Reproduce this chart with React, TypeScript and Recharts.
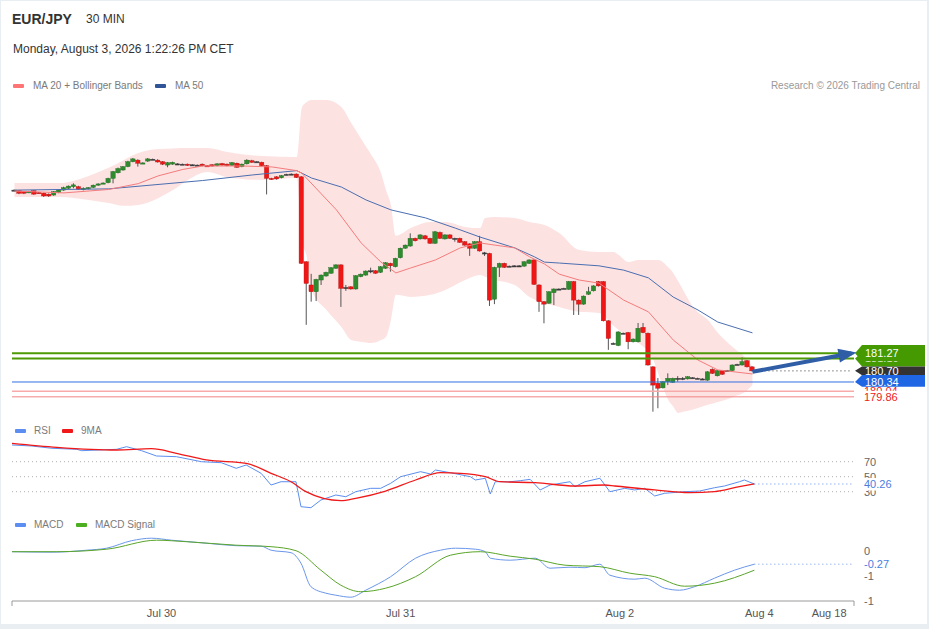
import React from 'react';
import { ComposedChart, Bar, Line, Area, XAxis, YAxis, ReferenceLine } from 'recharts';

const FONT = 'Arial, "Liberation Sans", Helvetica, sans-serif';
const SLOT_COUNT = 170;

// ---------- candles (30 min) ----------
const opens = [186.55,186.53,186.50,186.47,186.53,186.47,186.45,186.42,186.39,186.47,
186.55,186.61,186.66,186.66,186.56,186.60,186.64,186.71,186.77,186.79,
186.93,187.11,187.20,187.31,187.47,187.52,187.42,187.49,187.55,187.52,
187.47,187.36,187.39,187.40,187.39,187.39,187.37,187.36,187.39,187.34,
187.37,187.34,187.41,187.39,187.35,187.42,187.31,187.40,187.50,187.47,
187.45,187.34,186.93,186.98,186.95,187.06,187.07,187.07,186.98,184.23,
183.48,183.26,183.64,183.77,183.86,184.02,184.13,183.40,183.42,183.35,
183.75,183.80,183.94,183.94,183.89,184.02,184.18,184.07,184.36,184.67,
184.74,184.99,184.97,185.07,184.99,184.83,185.18,184.97,185.10,184.99,
184.99,184.88,184.81,184.67,184.88,184.52,184.50,183.02,184.05,184.18,
184.09,184.10,184.10,184.09,184.18,184.29,183.48,182.94,182.89,183.23,
183.35,183.37,183.34,183.59,182.99,182.86,183.18,183.29,183.59,183.59,
182.32,181.59,181.52,181.92,181.94,181.64,181.64,182.11,181.92,180.83,
180.30,180.15,180.35,180.33,180.46,180.46,180.44,180.48,180.46,180.44,
180.40,180.75,180.54,180.71,180.71,180.71,180.91,180.89,181.03,180.83];
const highs = [186.57,186.55,186.52,186.52,186.55,186.49,186.47,186.44,186.52,186.58,
186.66,186.70,186.77,186.69,186.64,186.65,186.73,186.77,186.80,186.95,
187.17,187.28,187.33,187.50,187.59,187.55,187.45,187.59,187.57,187.55,
187.49,187.46,187.47,187.42,187.41,187.41,187.39,187.38,187.41,187.36,
187.39,187.42,187.43,187.41,187.46,187.44,187.41,187.55,187.53,187.49,
187.47,187.36,186.95,187.00,187.04,187.08,187.09,187.09,187.00,184.25,
183.84,183.68,183.82,183.91,184.06,184.15,184.15,183.48,183.44,183.80,
183.85,183.95,184.04,183.96,184.09,184.22,184.20,184.36,184.69,184.79,
185.15,185.01,185.12,185.10,185.01,185.23,185.21,185.12,185.12,185.01,
185.01,184.90,184.83,184.90,185.07,184.55,184.52,184.07,184.20,184.20,
184.11,184.12,184.12,184.25,184.31,184.31,183.50,182.96,183.28,183.37,
183.37,183.39,183.61,183.61,183.01,183.14,183.42,183.47,183.61,183.61,
182.34,181.62,181.98,181.94,181.96,181.75,182.25,182.25,181.94,180.85,
180.47,180.37,180.62,180.48,180.53,180.50,180.53,180.50,180.48,180.46,
180.69,180.78,180.73,180.73,180.73,180.91,180.93,181.14,181.05,180.85];
const lows = [186.53,186.42,186.42,186.45,186.40,186.44,186.33,186.33,186.37,186.45,
186.53,186.59,186.61,186.56,186.54,186.57,186.62,186.69,186.75,186.77,
186.77,187.09,187.18,187.29,187.45,187.31,187.40,187.46,187.53,187.44,
187.36,187.29,187.37,187.38,187.37,187.33,187.35,187.34,187.32,187.31,
187.31,187.32,187.34,187.32,187.33,187.27,187.29,187.38,187.43,187.45,
187.32,186.41,186.88,186.89,186.93,187.04,187.05,186.94,184.16,182.19,
182.94,182.96,183.48,183.75,183.84,184.00,182.77,183.29,183.33,183.33,
183.73,183.78,183.86,183.84,183.87,184.00,183.91,184.05,184.34,184.65,
184.72,184.89,184.95,184.95,184.81,184.81,184.97,184.95,184.97,184.88,
184.84,184.75,184.42,184.65,184.56,184.42,182.80,182.86,183.74,184.03,
184.07,184.08,184.08,184.07,184.16,183.48,182.61,182.24,182.87,182.83,
183.33,183.35,183.32,182.51,182.51,182.84,183.16,183.27,183.43,182.30,
181.38,181.56,181.50,181.90,181.40,181.62,181.62,181.92,180.87,179.38,
179.49,180.13,180.24,180.31,180.35,180.40,180.42,180.46,180.44,180.42,
180.38,180.60,180.52,180.57,180.69,180.69,180.89,180.87,180.81,180.68];
const closes = [186.55,186.45,186.45,186.50,186.42,186.46,186.36,186.36,186.50,186.55,
186.63,186.68,186.72,186.58,186.61,186.63,186.71,186.75,186.78,186.93,
187.15,187.25,187.31,187.47,187.56,187.42,187.43,187.56,187.55,187.46,
187.39,187.44,187.45,187.40,187.39,187.35,187.37,187.36,187.34,187.33,
187.33,187.40,187.36,187.34,187.44,187.29,187.39,187.52,187.45,187.47,
187.34,186.93,186.92,186.91,187.02,187.06,187.07,186.96,184.18,183.53,
183.26,183.66,183.80,183.89,184.04,184.13,183.37,183.40,183.35,183.78,
183.83,183.93,183.94,183.86,184.07,184.20,184.10,184.34,184.67,184.77,
184.99,184.91,185.10,184.97,184.83,185.20,184.99,185.10,184.99,184.99,
184.86,184.77,184.67,184.88,184.58,184.52,182.99,184.05,184.18,184.05,
184.09,184.10,184.10,184.23,184.29,183.50,182.94,182.86,183.26,183.35,
183.35,183.37,183.59,182.99,182.86,183.12,183.26,183.45,183.45,182.32,
181.75,181.59,181.96,181.92,181.64,181.73,182.08,181.94,180.89,180.24,
180.14,180.35,180.46,180.46,180.46,180.46,180.51,180.48,180.46,180.44,
180.67,180.62,180.71,180.59,180.71,180.89,180.91,181.00,180.83,180.70];

// ---------- indicators read at key candles: [slot, value] ----------
const ma20Points = [[0,186.52],[10,186.46],[19,186.57],[25,186.76],[29,187.01],[34,187.22],[38,187.33],[46,187.33],[52,187.30],[57,187.18],[58,187.10],[65,185.91],[70,184.84],[74,184.22],[77,183.87],[80,184.03],[85,184.29],[90,184.68],[94,184.84],[97,184.77],[101,184.68],[104,184.39],[107,184.16],[110,183.83],[114,183.64],[118,183.54],[123,182.99],[128,182.61],[133,181.70],[138,181.05],[142,180.73],[149,180.60]];
const ma50Points = [[0,186.55],[19,186.59],[38,186.86],[48,187.04],[57,187.18],[60,186.94],[66,186.65],[71,186.23],[76,185.91],[83,185.65],[89,185.32],[94,185.03],[101,184.68],[105,184.39],[107,184.22],[110,184.19],[118,184.10],[123,183.96],[128,183.71],[133,183.09],[138,182.67],[142,182.28],[149,181.93]];
// [slot, upper, lower]
const bandPoints = [[0,186.78,186.33],[9,186.78,186.33],[15,187.01,186.23],[19,187.27,186.13],[22,187.52,186.04],[25,187.75,186.07],[29,187.88,186.29],[32,187.90,186.55],[35,187.91,186.88],[39,187.91,187.14],[43,187.78,186.97],[50,187.65,186.88],[57,187.62,186.94],[58,189.21,184.94],[59,189.40,184.39],[60,189.47,183.32],[63,189.47,182.67],[66,189.24,182.12],[68,188.72,181.70],[71,187.95,181.62],[72,187.70,181.60],[74,187.10,181.70],[75,186.55,181.80],[76,186.07,182.35],[77,185.07,183.16],[80,185.32,183.09],[84,185.52,183.16],[87,185.52,183.32],[91,185.36,183.64],[94,185.32,183.80],[95,185.65,183.75],[97,185.68,183.64],[101,185.65,183.48],[104,185.52,183.09],[107,185.42,182.90],[110,185.16,182.77],[114,184.61,182.61],[118,184.55,182.57],[121,184.55,182.15],[122,184.45,182.02],[124,184.22,181.80],[126,184.29,181.60],[129,184.29,181.05],[130,184.29,180.60],[132,184.05,179.76],[133,183.87,179.55],[134,183.60,179.34],[135,183.32,179.38],[137,182.77,179.45],[138,182.60,179.50],[140,182.35,179.60],[142,181.93,179.69],[145,181.47,179.85],[148,181.05,180.08],[149,180.83,180.24]];
const forecastPoints = [[149,180.67],[169,181.27]];

const rsiPoints = [[0,92.3],[4,90.9],[8,87.9],[13,86.5],[14,84.7],[21,86.5],[23,90.0],[26,84.7],[29,77.6],[33,76.7],[38,70.0],[42,68.7],[45,61.2],[47,65.6],[50,54.5],[52,38.9],[54,43.3],[57,43.3],[58,10.0],[60,8.7],[62,18.9],[65,25.6],[67,23.3],[69,30.0],[72,34.5],[74,34.5],[76,41.2],[78,50.0],[82,56.7],[84,53.6],[85,58.9],[88,55.3],[92,50.0],[93,45.6],[95,47.9],[96,26.9],[97,43.3],[100,43.3],[102,44.7],[104,46.5],[106,32.3],[108,38.9],[112,43.3],[113,36.7],[115,43.3],[118,47.9],[120,30.0],[123,34.5],[125,32.3],[127,34.5],[129,24.3],[131,27.9],[135,30.0],[138,30.9],[141,35.3],[143,37.6],[146,43.3],[147,45.6],[149,40.26]];
const rsiMaPoints = [[0,94.5],[9,89.2],[21,85.6],[28,87.3],[33,81.2],[39,72.3],[47,67.9],[52,54.5],[56,43.3],[59,30.0],[66,18.0],[69,21.2],[75,30.9],[81,45.6],[86,55.3],[90,54.5],[95,50.0],[98,43.3],[105,42.0],[113,37.6],[119,38.9],[121,37.6],[129,32.3],[136,28.7],[141,30.0],[146,36.7],[149,40.3]];
const macdPoints = [[0,-0.02],[8,-0.03],[15,0.01],[19,0.05],[24,0.20],[28,0.25],[32,0.21],[39,0.15],[45,0.10],[50,0.09],[52,0.01],[56,-0.04],[58,-0.25],[60,-0.72],[63,-0.85],[65,-0.89],[68,-0.93],[71,-0.79],[76,-0.52],[81,-0.15],[86,0.01],[89,0.05],[93,0.03],[95,-0.02],[96,-0.15],[100,-0.19],[105,-0.15],[108,-0.35],[112,-0.33],[115,-0.34],[118,-0.27],[120,-0.49],[125,-0.57],[127,-0.55],[131,-0.75],[134,-0.79],[137,-0.72],[141,-0.55],[145,-0.39],[149,-0.27]];
const signalPoints = [[0,-0.02],[9,-0.02],[19,0.03],[29,0.21],[35,0.18],[45,0.11],[52,0.08],[57,0.00],[62,-0.39],[66,-0.69],[70,-0.82],[75,-0.75],[81,-0.52],[88,-0.09],[94,-0.02],[100,-0.11],[105,-0.17],[111,-0.29],[118,-0.32],[124,-0.45],[129,-0.52],[135,-0.71],[141,-0.65],[149,-0.39]];

// ---------- labels / levels ----------
const tickSlots = [30, 78, 122, 150, 164];
const tickLabels = ['Jul 30', 'Jul 31', 'Aug 2', 'Aug 4', 'Aug 18'];
const axisEndSlots = [0, 169];
const lastClose = 180.70;
const lastRsi = 40.26;
const lastMacd = -0.27;
const resistanceLevels = [181.10, 181.27];
const supportLevel = 180.34;
const pivotLevels = [180.04, 179.86];
const rsiLevels = [70, 50, 30];
const macdTickValues = [0, -0.5, -1];
const macdTickLabels = ['0', '-1', '-1'];
const extendSlots = [149, 169];

const MAIN_DOMAIN = [179.272, 189.628];
const RSI_DOMAIN = [5.6, 98.93];
const MACD_DOMAIN = [-1.006, 0.314];
const MARGIN = { top: 0, right: 75, bottom: 0, left: 12 };

const sparse = (pts: number[][], col = 1) => {
  const a: (number | null)[] = new Array(SLOT_COUNT).fill(null);
  pts.forEach((p) => { a[p[0]] = p[col]; });
  return a;
};
const ma20 = sparse(ma20Points);
const ma50 = sparse(ma50Points);
const bandUp = sparse(bandPoints, 1);
const bandLo = sparse(bandPoints, 2);
const forecast = sparse(forecastPoints);
const rsi = sparse(rsiPoints);
const rsiMa = sparse(rsiMaPoints);
const macd = sparse(macdPoints);
const signal = sparse(signalPoints);
const closeExt = sparse(extendSlots.map((s) => [s, lastClose]));
const rsiExt = sparse(extendSlots.map((s) => [s, lastRsi]));
const macdExt = sparse(extendSlots.map((s) => [s, lastMacd]));

const rows = Array.from({ length: SLOT_COUNT }, (_, i) => {
  const has = i < opens.length;
  return {
    i,
    o: has ? opens[i] : null,
    h: has ? highs[i] : null,
    l: has ? lows[i] : null,
    c: has ? closes[i] : null,
    range: has ? [lows[i], highs[i]] : null,
    ma20: ma20[i],
    ma50: ma50[i],
    band: bandUp[i] != null ? [bandLo[i], bandUp[i]] : null,
    fc: forecast[i],
    closeExt: closeExt[i],
    rsi: rsi[i],
    rsiMa: rsiMa[i],
    rsiExt: rsiExt[i],
    macd: macd[i],
    signal: signal[i],
    macdExt: macdExt[i],
  };
});

const Candle = (props: any) => {
  const { x, y, width, height, payload } = props;
  if (!payload || payload.o == null || x == null || y == null) return null;
  const { o, h, l, c } = payload;
  const top = Math.min(y, y + height);
  const hh = Math.abs(height);
  const ppu = hh / (h - l);
  const cx = x + width / 2;
  const yo = top + (h - o) * ppu;
  const yc = top + (h - c) * ppu;
  const bTop = Math.min(yo, yc);
  const bH = Math.max(Math.abs(yc - yo), 1.2);
  const doji = o === c;
  const up = c > o;
  const fill = doji ? '#3a3a3a' : up ? '#2e8b2e' : '#f01616';
  const edge = doji ? '#3a3a3a' : up ? '#216b21' : '#b51010';
  return (
    <g>
      <line x1={cx} x2={cx} y1={top} y2={top + hh} stroke="#555" strokeWidth={1} />
      <rect x={cx - 2.2} y={bTop} width={4.4} height={bH} fill={fill} stroke={edge} strokeWidth={0.4} />
    </g>
  );
};

// price tag with a left-pointing notch; up/down = box extent above/below the level
const Tag = (props: any) => {
  const { viewBox, text, fill, up = 7, down = 7, color = '#fff' } = props;
  if (!viewBox) return null;
  const x0 = viewBox.x + viewBox.width + 1;
  const y = viewBox.y;
  const t = y - up;
  const b = y + down;
  const pts = `${x0},${y} ${x0 + 7},${t} ${x0 + 70},${t} ${x0 + 70},${b} ${x0 + 7},${b}`;
  return (
    <g>
      <polygon points={pts} fill={fill} />
      <text x={x0 + 10} y={y} dy="0.36em" fontSize={11} fill={color} fontFamily={FONT}>{text}</text>
    </g>
  );
};

const SideText = (props: any) => {
  const { viewBox, text, color, bg } = props;
  if (!viewBox) return null;
  const x0 = viewBox.x + viewBox.width + 10;
  const y = viewBox.y;
  return (
    <g>
      {bg ? <rect x={x0 - 2} y={y - 6} width={38} height={12.5} fill="#fff" /> : null}
      <text x={x0} y={y} dy="0.36em" fontSize={11} fill={color} fontFamily={FONT}>{text}</text>
    </g>
  );
};

const ArrowDot = (props: any) => {
  const { cx, cy, index } = props;
  if (index !== extendSlots[1] || cx == null || cy == null) return <g key={`d${index}`} />;
  return (
    <polygon
      key={`d${index}`}
      points={`${cx + 5},${cy} ${cx - 13},${cy - 7} ${cx - 13},${cy + 7}`}
      fill="#2f5ea6"
      transform={`rotate(-10.2 ${cx} ${cy})`}
    />
  );
};

const DateTick = (props: any) => {
  const { x, y, payload } = props;
  if (axisEndSlots.indexOf(payload.value) >= 0) {
    return <line x1={x} x2={x} y1={y - 8} y2={y - 3} stroke="#9a9a9a" strokeWidth={1} />;
  }
  const k = tickSlots.indexOf(payload.value);
  if (k < 0) return null;
  return (
    <text x={x} y={y} dy="0.71em" textAnchor="middle" fontSize={11} fill="#555" fontFamily={FONT}>
      {tickLabels[k]}
    </text>
  );
};

const Swatch = ({ left, top, color }: any) => (
  <div style={{ position: 'absolute', left, top, width: 11, height: 4, background: color, borderRadius: 1 }} />
);
const LegendText = ({ left, top, children }: any) => (
  <div style={{ position: 'absolute', left, top, fontSize: 10, lineHeight: '12px', color: '#7a7a7a', whiteSpace: 'nowrap' }}>{children}</div>
);

export default function App() {
  return (
    <div style={{ position: 'absolute', left: 0, top: 0, width: 929, height: 629, background: '#e9eef2', fontFamily: FONT, overflow: 'hidden' }}>
      <div style={{ position: 'absolute', left: 1, top: 1, width: 926, height: 623, background: '#fff' }} />

      <div style={{ position: 'absolute', left: 12, top: 10, fontSize: 14, fontWeight: 'bold', lineHeight: '18px', color: '#333' }}>EUR/JPY</div>
      <div style={{ position: 'absolute', left: 86, top: 11, fontSize: 12, lineHeight: '16px', color: '#333' }}>30 MIN</div>
      <div style={{ position: 'absolute', left: 13, top: 41, fontSize: 12, lineHeight: '16px', color: '#333' }}>Monday, August 3, 2026 1:22:26 PM CET</div>

      <Swatch left={13} top={84} color="#ff7575" />
      <LegendText left={33} top={80}>MA 20 + Bollinger Bands</LegendText>
      <Swatch left={155} top={84} color="#2f5597" />
      <LegendText left={175} top={80}>MA 50</LegendText>
      <div style={{ position: 'absolute', right: 9, top: 80, fontSize: 10, lineHeight: '12px', color: '#999', whiteSpace: 'nowrap' }}>Research © 2026 Trading Central</div>

      <div style={{ position: 'absolute', left: 0, top: 95 }}>
        <ComposedChart width={929} height={320} data={rows} margin={MARGIN}>
          <XAxis dataKey="i" type="category" hide />
          <YAxis type="number" hide domain={MAIN_DOMAIN} allowDataOverflow />
          <Area dataKey="band" type="monotone" fill="#fde2e2" fillOpacity={1} stroke="none" connectNulls dot={false} activeDot={false} isAnimationActive={false} />
          <Line dataKey="ma50" stroke="#4a6eb0" strokeWidth={1} dot={false} activeDot={false} connectNulls isAnimationActive={false} />
          <Line dataKey="ma20" stroke="#f47c7c" strokeWidth={1} dot={false} activeDot={false} connectNulls isAnimationActive={false} />
          <Bar dataKey="range" barSize={4} shape={(p: any) => <Candle {...p} />} isAnimationActive={false} />
          <ReferenceLine y={pivotLevels[0]} stroke="#f7aaaa" strokeWidth={1.5} label={<SideText text={pivotLevels[0].toFixed(2)} color="#f02020" />} />
          <ReferenceLine y={pivotLevels[1]} stroke="#f08484" strokeWidth={1} label={<SideText text={pivotLevels[1].toFixed(2)} color="#f02020" bg />} />
          <ReferenceLine y={resistanceLevels[0]} stroke="#4e9a06" strokeWidth={2} label={<Tag text={resistanceLevels[0].toFixed(2)} fill="#449a00" up={6} down={8} />} />
          <ReferenceLine y={resistanceLevels[1]} stroke="#4e9a06" strokeWidth={2} label={<Tag text={resistanceLevels[1].toFixed(2)} fill="#449a00" up={8.3} down={8} />} />
          <ReferenceLine y={lastClose} stroke="none" label={<Tag text={lastClose.toFixed(2)} fill="#333" up={4.3} down={4.5} />} />
          <ReferenceLine y={supportLevel} stroke="#2f6fe0" strokeWidth={1} label={<Tag text={supportLevel.toFixed(2)} fill="#1f66e5" up={7} down={4.8} />} />
          <Line dataKey="closeExt" stroke="#333" strokeWidth={1} strokeDasharray="1 3" dot={false} activeDot={false} connectNulls isAnimationActive={false} />
          <Line dataKey="fc" stroke="#2f5ea6" strokeWidth={4} dot={(p: any) => <ArrowDot key={`a${p.index}`} {...p} />} activeDot={false} connectNulls isAnimationActive={false} />
        </ComposedChart>
      </div>

      <Swatch left={15} top={429} color="#5b8ef0" />
      <LegendText left={34} top={425}>RSI</LegendText>
      <Swatch left={62} top={429} color="#f01818" />
      <LegendText left={81} top={425}>9MA</LegendText>

      <div style={{ position: 'absolute', left: 0, top: 440 }}>
        <ComposedChart width={929} height={70} data={rows} margin={MARGIN}>
          <XAxis dataKey="i" type="category" hide />
          <YAxis type="number" hide domain={RSI_DOMAIN} allowDataOverflow />
          {rsiLevels.map((v) => (
            <ReferenceLine key={v} y={v} stroke="#b0b0b0" strokeDasharray="1 3" label={<SideText text={String(v)} color="#666" />} />
          ))}
          <Line dataKey="rsi" stroke="#5b8ef0" strokeWidth={1} dot={false} activeDot={false} connectNulls isAnimationActive={false} />
          <Line dataKey="rsiMa" type="monotone" stroke="#f01818" strokeWidth={1.3} dot={false} activeDot={false} connectNulls isAnimationActive={false} />
          <Line dataKey="rsiExt" stroke="#5b8ef0" strokeWidth={1} strokeDasharray="1 3" dot={false} activeDot={false} connectNulls isAnimationActive={false} />
          <ReferenceLine y={lastRsi} stroke="none" label={<SideText text={lastRsi.toFixed(2)} color="#4a7de0" bg />} />
        </ComposedChart>
      </div>

      <Swatch left={15} top={523} color="#5b8ef0" />
      <LegendText left={34} top={519}>MACD</LegendText>
      <Swatch left={76} top={523} color="#4caf20" />
      <LegendText left={95} top={519}>MACD Signal</LegendText>

      <div style={{ position: 'absolute', left: 0, top: 535 }}>
        <ComposedChart width={929} height={96} data={rows} margin={MARGIN}>
          <XAxis
            dataKey="i"
            type="category"
            ticks={[...axisEndSlots, ...tickSlots]}
            interval={0}
            tickLine={false}
            axisLine={{ stroke: '#9a9a9a' }}
            tick={<DateTick />}
            height={30}
          />
          <YAxis type="number" hide domain={MACD_DOMAIN} allowDataOverflow />
          {macdTickValues.map((v, k) => (
            <ReferenceLine key={k} y={v} stroke="none" label={<SideText text={macdTickLabels[k]} color="#666" />} />
          ))}
          <Line dataKey="macd" type="monotone" stroke="#6b97ea" strokeWidth={1} dot={false} activeDot={false} connectNulls isAnimationActive={false} />
          <Line dataKey="signal" type="monotone" stroke="#5aa52a" strokeWidth={1} dot={false} activeDot={false} connectNulls isAnimationActive={false} />
          <Line dataKey="macdExt" stroke="#6b97ea" strokeWidth={1} strokeDasharray="1 3" dot={false} activeDot={false} connectNulls isAnimationActive={false} />
          <ReferenceLine y={lastMacd} stroke="none" label={<SideText text={lastMacd.toFixed(2)} color="#4a7de0" bg />} />
        </ComposedChart>
      </div>
    </div>
  );
}
